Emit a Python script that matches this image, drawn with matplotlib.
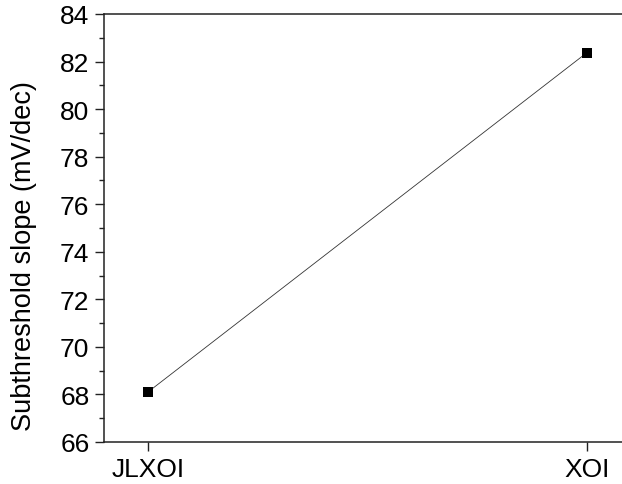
import matplotlib
matplotlib.use("Agg")
import matplotlib.pyplot as plt
from matplotlib.ticker import MultipleLocator

plt.rcParams['font.family'] = ['Liberation Sans', 'DejaVu Sans']

devices = ["JLXOI", "XOI"]
ss_values = [68.1, 82.38]
y_ticks = [66, 68, 70, 72, 74, 76, 78, 80, 82, 84]

fig = plt.figure(figsize=(6.22, 4.85), dpi=100)
# axes run past the right edge of the canvas
ax = fig.add_axes([104 / 622, 1 - 443 / 485, 527 / 622, 428 / 485])

x = list(range(len(devices)))
ax.plot(x, ss_values, color="#333333", linewidth=0.6,
        marker="s", markersize=6.5, markerfacecolor="black",
        markeredgecolor="black", markeredgewidth=0)

ax.set_xlim(-0.1, 1.1)
ax.set_ylim(66, 84)
ax.set_xticks(x)
ax.set_xticklabels(devices)
ax.set_yticks(y_ticks)
ax.yaxis.set_minor_locator(MultipleLocator(1))

for side in ["left", "bottom", "top"]:
    ax.spines[side].set_linewidth(1.1)
    ax.spines[side].set_color("#222222")
ax.spines["right"].set_visible(False)

ax.tick_params(axis="both", which="major", direction="out", length=6.5,
               width=1.0, labelsize=19, pad=4, color="#222222")
ax.tick_params(axis="y", which="minor", direction="out", length=3.5,
               width=1.0, color="#222222")
ax.tick_params(top=False, right=False)

ax.set_ylabel("Subthreshold slope (mV/dec)", fontsize=19.5)
ax.yaxis.set_label_coords(-0.127, 0.437)

fig.savefig("out.png", dpi=100)
